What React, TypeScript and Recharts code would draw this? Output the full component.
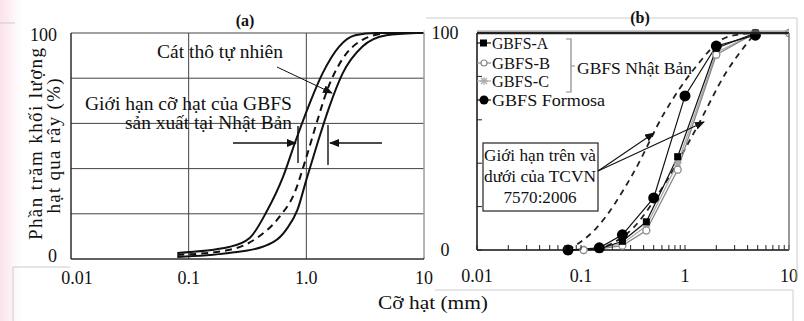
import { LineChart, Line, XAxis, YAxis, CartesianGrid } from "recharts";

const FONT = "Liberation Serif";

// (a) grading envelope of Japanese GBFS and natural coarse sand
const finerLimit = [
  { x: 0.08, y: 2.7 }, { x: 0.22, y: 5.3 }, { x: 0.33, y: 9.3 }, { x: 0.46, y: 21 },
  { x: 0.63, y: 36 }, { x: 0.82, y: 53 }, { x: 1.07, y: 69 }, { x: 1.37, y: 82 },
  { x: 1.9, y: 94 }, { x: 2.6, y: 99 }, { x: 3.9, y: 100 }, { x: 10, y: 100 },
];
const naturalSand = [
  { x: 0.08, y: 1.8 }, { x: 0.22, y: 4 }, { x: 0.38, y: 9.3 }, { x: 0.59, y: 18.6 },
  { x: 0.79, y: 29 }, { x: 1.0, y: 45 }, { x: 1.22, y: 60 }, { x: 1.51, y: 75 },
  { x: 2.0, y: 88 }, { x: 3.0, y: 97 }, { x: 4.8, y: 100 },
];
const coarserLimit = [
  { x: 0.08, y: 0.9 }, { x: 0.22, y: 2.7 }, { x: 0.42, y: 5.3 }, { x: 0.67, y: 12.8 },
  { x: 0.84, y: 21.7 }, { x: 1.0, y: 35 }, { x: 1.24, y: 51 }, { x: 1.56, y: 67 },
  { x: 2.03, y: 82 }, { x: 3.0, y: 94 }, { x: 4.8, y: 99 }, { x: 8.6, y: 100 },
];

// (b) measured gradings
const gbfsA = [
  { x: 0.075, y: 0 }, { x: 0.15, y: 0.5 }, { x: 0.25, y: 4 }, { x: 0.425, y: 13 },
  { x: 0.85, y: 43 }, { x: 2.0, y: 93 }, { x: 4.75, y: 100 },
];
const gbfsB = [
  { x: 0.075, y: 0 }, { x: 0.106, y: 0 }, { x: 0.15, y: 0.5 }, { x: 0.25, y: 2 },
  { x: 0.425, y: 9 }, { x: 0.85, y: 37 }, { x: 2.0, y: 90 }, { x: 4.75, y: 100 },
  { x: 10, y: 100 },
];
const gbfsC = [
  { x: 0.075, y: 0 }, { x: 0.106, y: 0 }, { x: 0.15, y: 0.5 }, { x: 0.25, y: 3 },
  { x: 0.425, y: 11 }, { x: 0.85, y: 40 }, { x: 2.0, y: 91 }, { x: 4.75, y: 100 },
];
const gbfsFormosa = [
  { x: 0.075, y: 0 }, { x: 0.15, y: 1 }, { x: 0.25, y: 7 }, { x: 0.5, y: 24 },
  { x: 1.0, y: 71 }, { x: 2.0, y: 94 }, { x: 4.75, y: 99 },
];
const tcvnUpper = [
  { x: 0.075, y: 0 }, { x: 0.14, y: 10 }, { x: 0.315, y: 35 }, { x: 0.63, y: 63 },
  { x: 1.25, y: 84 }, { x: 2.5, y: 98 }, { x: 4.5, y: 100 },
];
const tcvnLower = [
  { x: 0.14, y: 0 }, { x: 0.315, y: 10 }, { x: 0.63, y: 30 }, { x: 1.25, y: 55 },
  { x: 2.5, y: 82 }, { x: 4.75, y: 100 },
];

const decadeTicks = [0.01, 0.1, 1, 10];
const decadeLabelsA = ["0.01", "0.1", "1.0", "10"];
const decadeLabelsB = ["0.01", "0.1", "1", "10"];
const logTicks = [
  0.01, 0.02, 0.03, 0.04, 0.05, 0.06, 0.07, 0.08, 0.09,
  0.1, 0.2, 0.3, 0.4, 0.5, 0.6, 0.7, 0.8, 0.9,
  1, 2, 3, 4, 5, 6, 7, 8, 9, 10,
];
const pctTicks = [0, 20, 40, 60, 80, 100];

const PB_LEFT = 426;

const SquareDot = (p: any) => {
  if (p.cx == null) return <g key={p.key} />;
  return <rect key={p.key} x={p.cx - 3.5} y={p.cy - 3.5} width={7} height={7} fill="#000" />;
};
const OpenDot = (p: any) => {
  if (p.cx == null) return <g key={p.key} />;
  return <circle key={p.key} cx={p.cx} cy={p.cy} r={3.5} fill="#fff" stroke="#888" strokeWidth={1.3} />;
};
const StarDot = (p: any) => {
  if (p.cx == null) return <g key={p.key} />;
  const s = 4;
  return (
    <g key={p.key} stroke="#aaa" strokeWidth={1.3}>
      <line x1={p.cx - s} y1={p.cy} x2={p.cx + s} y2={p.cy} />
      <line x1={p.cx} y1={p.cy - s} x2={p.cx} y2={p.cy + s} />
      <line x1={p.cx - 3} y1={p.cy - 3} x2={p.cx + 3} y2={p.cy + 3} />
      <line x1={p.cx - 3} y1={p.cy + 3} x2={p.cx + 3} y2={p.cy - 3} />
    </g>
  );
};
const BigDot = (p: any) => {
  if (p.cx == null) return <g key={p.key} />;
  return <circle key={p.key} cx={p.cx} cy={p.cy} r={5.5} fill="#000" />;
};

const TickA = (p: any) => {
  const i = decadeTicks.indexOf(p.payload.value);
  return (
    <text x={p.x + (i === 0 ? 6 : 0)} y={p.y} dy="0.71em" textAnchor="middle" fontSize={18} style={{ fontFamily: FONT }} fill="#111">
      {decadeLabelsA[i] ?? ""}
    </text>
  );
};

const TickAY = (p: any) => {
  const v = p.payload.value;
  if (v !== 0 && v !== 100) return <g />;
  return (
    <text x={p.x} y={p.y + (v === 0 ? -3 : 2)} dy="0.35em" textAnchor="end" fontSize={18} style={{ fontFamily: FONT }} fill="#111">
      {v}
    </text>
  );
};

const TickB = (p: any) => {
  const v = p.payload.value;
  const axisY = p.y - 19;
  const i = decadeTicks.indexOf(v);
  return (
    <g>
      <line x1={p.x} y1={axisY} x2={p.x} y2={axisY - 5} stroke="#222" />
      {i >= 0 && (
        <text x={p.x} y={p.y} dy="0.71em" textAnchor="middle" fontSize={18} style={{ fontFamily: FONT }} fill="#111">
          {decadeLabelsB[i]}
        </text>
      )}
    </g>
  );
};

const TickBY = (p: any) => {
  const v = p.payload.value;
  const axisX = p.x + 10;
  return (
    <g>
      <line x1={axisX} y1={p.y} x2={axisX + 5} y2={p.y} stroke="#222" />
      {(v === 0 || v === 100) && (
        <text x={axisX - 32} y={p.y} dy="0.35em" textAnchor="middle" fontSize={18} style={{ fontFamily: FONT }} fill="#111">
          {v}
        </text>
      )}
    </g>
  );
};

const txt = { style: { fontFamily: FONT }, fill: "#111" } as const;

export default function App() {
  return (
    <div style={{ position: "absolute", left: 0, top: 0, width: 804, height: 321, background: "#fff", overflow: "hidden", fontFamily: FONT }}>
      <div style={{ position: "absolute", left: 0, top: 0, width: 22, height: 321, background: "linear-gradient(90deg, #fbe3ec, #fff)" }} />

      <div style={{ position: "absolute", left: 0, top: 0 }}>
        <LineChart width={440} height={290} margin={{ top: 33, right: 16, left: 0, bottom: 0 }}>
          <CartesianGrid stroke="#444" strokeWidth={1} />
          <XAxis
            dataKey="x" type="number" scale="log" domain={[0.01, 10]} allowDataOverflow
            ticks={decadeTicks} interval={0} tickLine={false} tickSize={4} tickMargin={8} height={31}
            axisLine={{ stroke: "#222" }} tick={<TickA />}
          />
          <YAxis
            type="number" domain={[0, 100]} ticks={pctTicks} width={71} tickLine={false}
            tickSize={6} tickMargin={8} axisLine={{ stroke: "#222" }} tick={<TickAY />}
          />
          <Line data={finerLimit} dataKey="y" type="monotone" stroke="#111" strokeWidth={2} dot={false} isAnimationActive={false} />
          <Line data={naturalSand} dataKey="y" type="monotone" stroke="#111" strokeWidth={2} strokeDasharray="7 5" dot={false} isAnimationActive={false} />
          <Line data={coarserLimit} dataKey="y" type="monotone" stroke="#111" strokeWidth={2} dot={false} isAnimationActive={false} />
        </LineChart>
      </div>

      <div style={{ position: "absolute", left: PB_LEFT, top: 0 }}>
        <LineChart width={376} height={285} margin={{ top: 33, right: 13, left: 0, bottom: 0 }}>
          <XAxis
            dataKey="x" type="number" scale="log" domain={[0.01, 10]} allowDataOverflow
            ticks={logTicks} interval={0} tickLine={false} tickSize={6} tickMargin={13} height={35}
            axisLine={{ stroke: "#111", strokeWidth: 1.5 }} tick={<TickB />}
          />
          <YAxis
            type="number" domain={[0, 100]} ticks={pctTicks} width={477 - PB_LEFT} tickLine={false}
            tickSize={6} tickMargin={4} axisLine={{ stroke: "#111", strokeWidth: 1.5 }} tick={<TickBY />}
          />
          <Line data={tcvnLower} dataKey="y" type="monotone" stroke="#222" strokeWidth={1.8} strokeDasharray="6 5" dot={false} isAnimationActive={false} />
          <Line data={tcvnUpper} dataKey="y" type="monotone" stroke="#222" strokeWidth={1.8} strokeDasharray="6 5" dot={false} isAnimationActive={false} />
          <Line data={gbfsC} dataKey="y" stroke="#aaa" strokeWidth={1.3} dot={<StarDot />} isAnimationActive={false} />
          <Line data={gbfsB} dataKey="y" stroke="#888" strokeWidth={1.3} dot={<OpenDot />} isAnimationActive={false} />
          <Line data={gbfsA} dataKey="y" stroke="#111" strokeWidth={1.2} dot={<SquareDot />} isAnimationActive={false} />
          <Line data={gbfsFormosa} dataKey="y" stroke="#111" strokeWidth={1.2} dot={<BigDot />} isAnimationActive={false} />
        </LineChart>
      </div>

      <svg width={804} height={321} style={{ position: "absolute", left: 0, top: 0, pointerEvents: "none" }}>
        <defs>
          <marker id="ah" markerWidth="10" markerHeight="8" refX="9" refY="4" orient="auto" markerUnits="userSpaceOnUse">
            <path d="M0,0 L10,4 L0,8 Z" fill="#111" />
          </marker>
        </defs>

        {/* faint page frames */}
        <g stroke="#ccc" strokeWidth={1}>
          <line x1={0} y1={23} x2={15} y2={23} />
          <line x1={13} y1={267} x2={70} y2={267} />
          <line x1={13} y1={267} x2={13} y2={321} />
          <line x1={426} y1={18} x2={797} y2={18} />
          <line x1={797} y1={18} x2={797} y2={280} />
          <line x1={424} y1={30} x2={424} y2={257} />
          <line x1={435} y1={290} x2={793} y2={290} />
          <line x1={793} y1={290} x2={793} y2={321} />
        </g>

        {/* (a) */}
        <text x={245} y={26} textAnchor="middle" fontSize={16} fontWeight="bold" {...txt}>(a)</text>
        <text x={35} y={144} transform="rotate(-90 35 144)" textAnchor="middle" dominantBaseline="central" fontSize={19} textLength={192} lengthAdjust="spacing" {...txt}>
          Phần trăm khối lượng
        </text>
        <text x={53} y={146} transform="rotate(-90 53 146)" textAnchor="middle" dominantBaseline="central" fontSize={19} textLength={135} lengthAdjust="spacing" {...txt}>
          hạt qua rây (%)
        </text>
        <text x={157} y={58} fontSize={18} textLength={126} lengthAdjust="spacingAndGlyphs" {...txt}>Cát thô tự nhiên</text>
        <line x1={277} y1={67} x2={332} y2={93} stroke="#111" strokeWidth={1} markerEnd="url(#ah)" />
        <text x={85} y={110} fontSize={18} textLength={207} lengthAdjust="spacingAndGlyphs" {...txt}>Giới hạn cỡ hạt của GBFS</text>
        <text x={125} y={129} fontSize={18} textLength={167} lengthAdjust="spacingAndGlyphs" {...txt}>sản xuất tại Nhật Bản</text>
        <g stroke="#111" strokeWidth={1.4}>
          <line x1={233} y1={143} x2={296} y2={143} markerEnd="url(#ah)" />
          <line x1={298} y1={126} x2={298} y2={163} />
          <line x1={382} y1={143} x2={330} y2={143} markerEnd="url(#ah)" />
          <line x1={328} y1={125} x2={328} y2={165} />
        </g>
        <text x={433} y={309} textAnchor="middle" fontSize={18} textLength={110} lengthAdjust="spacingAndGlyphs" {...txt}>Cỡ hạt (mm)</text>

        {/* (b) */}
        <text x={640} y={23} textAnchor="middle" fontSize={16} fontWeight="bold" {...txt}>(b)</text>
        <line x1={477} y1={33} x2={789} y2={33} stroke="#222" strokeWidth={2.5} />
        <line x1={477} y1={31} x2={789} y2={31} stroke="#999" strokeWidth={1} />
        <line x1={789} y1={33} x2={789} y2={250} stroke="#777" strokeWidth={1.5} />

        {/* legend */}
        <g>
          <line x1={477} y1={43} x2={491} y2={43} stroke="#111" strokeWidth={1.2} />
          <rect x={480} y={39.5} width={7} height={7} fill="#000" />
          <line x1={477} y1={63} x2={491} y2={63} stroke="#888" strokeWidth={1.2} />
          <circle cx={484} cy={63} r={3} fill="#fff" stroke="#888" strokeWidth={1.2} />
          <line x1={477} y1={81} x2={491} y2={81} stroke="#aaa" strokeWidth={1.2} />
          <g stroke="#aaa" strokeWidth={1.2}>
            <line x1={480} y1={81} x2={488} y2={81} />
            <line x1={484} y1={77} x2={484} y2={85} />
            <line x1={481} y1={78} x2={487} y2={84} />
            <line x1={481} y1={84} x2={487} y2={78} />
          </g>
          <line x1={477} y1={100} x2={491} y2={100} stroke="#111" strokeWidth={1.2} />
          <circle cx={484} cy={100} r={4.5} fill="#000" />
          <text x={492} y={49} fontSize={17} textLength={56} lengthAdjust="spacingAndGlyphs" {...txt}>GBFS-A</text>
          <text x={492} y={69} fontSize={17} textLength={58} lengthAdjust="spacingAndGlyphs" {...txt}>GBFS-B</text>
          <text x={492} y={87} fontSize={17} textLength={57} lengthAdjust="spacingAndGlyphs" {...txt}>GBFS-C</text>
          <text x={492} y={106} fontSize={17} textLength={113} lengthAdjust="spacingAndGlyphs" {...txt}>GBFS Formosa</text>
          <path d="M566,39 L571,39 L571,92 L566,92 M571,66 L575,66" fill="none" stroke="#888" strokeWidth={1.2} />
          <text x={577} y={74} fontSize={17} textLength={115} lengthAdjust="spacingAndGlyphs" {...txt}>GBFS Nhật Bản</text>
        </g>

        {/* TCVN box */}
        <rect x={483} y={143} width={115} height={68} fill="#fff" stroke="#222" strokeWidth={1.2} />
        <text x={540} y={161} textAnchor="middle" fontSize={16} textLength={112} lengthAdjust="spacingAndGlyphs" {...txt}>Giới hạn trên và</text>
        <text x={540} y={182} textAnchor="middle" fontSize={16} textLength={112} lengthAdjust="spacingAndGlyphs" {...txt}>dưới của TCVN</text>
        <text x={540} y={203} textAnchor="middle" fontSize={16} textLength={73} lengthAdjust="spacingAndGlyphs" {...txt}>7570:2006</text>
        <g stroke="#111" strokeWidth={1.1}>
          <line x1={598} y1={171} x2={654} y2={133} markerEnd="url(#ah)" />
          <line x1={598} y1={171} x2={704} y2={122} markerEnd="url(#ah)" />
        </g>
      </svg>
    </div>
  );
}
